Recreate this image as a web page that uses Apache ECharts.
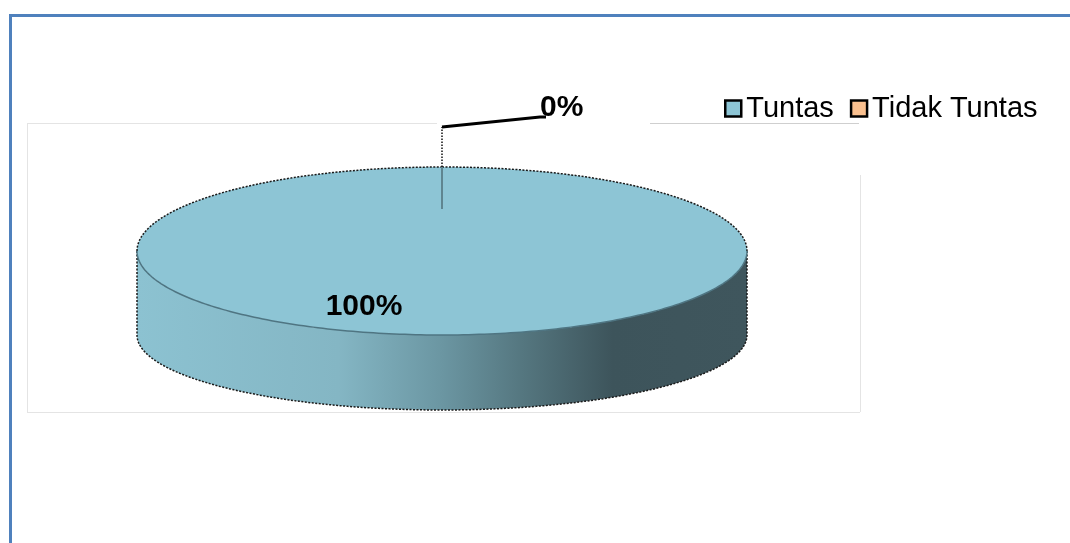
<!DOCTYPE html>
<html><head><meta charset="utf-8">
<script src="https://cdn.jsdelivr.net/npm/echarts@6/dist/echarts.min.js"></script>
<style>html,body{margin:0;padding:0;background:#fff}#c{width:1070px;height:543px}</style>
</head><body><div id="c"></div>
<script>
// ---- data ----
const categories = ['Tuntas', 'Tidak Tuntas'];
const values = [100, 0];
const colors = ['#8DC5D5', '#FAC08F'];

// ---- layout / style ----
const G = { cx: 442, cy: 251, rx: 305, ry: 84, cyB: 335, ryB: 75 };
const TAU = Math.PI * 2;
const total = values.reduce((a, b) => a + b, 0);

function pt(theta, k, bottom) {
  const cy = bottom ? G.cyB : G.cy, ry = bottom ? G.ryB : G.ry;
  return [G.cx + G.rx * k * Math.sin(theta), cy - ry * k * Math.cos(theta)];
}
function arc(a, b, bottom) {
  const pts = [];
  const N = Math.max(2, Math.ceil(Math.abs(b - a) / (Math.PI / 180)));
  for (let i = 0; i <= N; i++) pts.push(pt(a + (b - a) * i / N, 1, bottom));
  return pts;
}
function clip(s, e, a, b) {
  const out = [];
  for (const off of [-TAU, 0, TAU]) {
    const lo = Math.max(s, a + off), hi = Math.min(e, b + off);
    if (hi > lo) out.push([lo, hi]);
  }
  return out;
}
const sideGrad = new echarts.graphic.LinearGradient(0, 0, 1, 0, [
  { offset: 0, color: '#8CC2D1' },
  { offset: 0.33, color: '#84B6C4' },
  { offset: 0.5, color: '#6B96A2' },
  { offset: 0.63, color: '#557780' },
  { offset: 0.78, color: '#3D545B' },
  { offset: 1, color: '#3F565D' }
]);

function renderSlice(k) {
  return function (params, api) {
    let s = 0;
    for (let i = 0; i < k; i++) s += values[i];
    const start = s / total * TAU;
    const end = (s + values[k]) / total * TAU;
    const span = end - start;
    const children = [];
    const dark = { stroke: '#1a1a1a', lineWidth: 1.5, lineDash: [2, 1.5], fill: null };
    if (span > 0) {
      clip(start, end, Math.PI / 2, 3 * Math.PI / 2).forEach(([a, b]) => {
        const pts = arc(a, b, false).concat(arc(b, a, true));
        children.push({ type: 'polygon', shape: { points: pts }, style: { fill: sideGrad } });
        children.push({ type: 'polyline', shape: { points: [pt(a, 1, false)].concat(arc(a, b, true)).concat([pt(b, 1, false)]) }, style: dark });
      });
      const topPts = span >= TAU - 1e-9 ? arc(0, TAU, false) : [[G.cx, G.cy]].concat(arc(start, end, false));
      children.push({ type: 'polygon', shape: { points: topPts }, style: { fill: colors[k] } });
      clip(start, end, -Math.PI / 2, Math.PI / 2).forEach(([a, b]) => {
        children.push({ type: 'polyline', shape: { points: arc(a, b, false) }, style: dark });
      });
      clip(start, end, Math.PI / 2, 3 * Math.PI / 2).forEach(([a, b]) => {
        children.push({ type: 'polyline', shape: { points: arc(a, b, false) }, style: { stroke: '#4F7582', lineWidth: 1.5, fill: null } });
      });
    }
    const mid = (start + end) / 2;
    const pct = Math.round(values[k] / total * 100) + '%';
    const font = 'bold 30px "Liberation Sans", Arial, sans-serif';
    if (values[k] / total < 0.05) {
      const anchor = pt(mid, 0.5, false);
      const edge = pt(mid, 1, false);
      const elbow = [edge[0], 127];
      children.push({ type: 'polyline', shape: { points: [anchor, edge] }, style: { stroke: '#5F8590', lineWidth: 2, fill: null } });
      children.push({ type: 'polyline', shape: { points: [edge, elbow] }, style: { stroke: '#111', lineWidth: 1.5, lineDash: [1.5, 1.5], fill: null } });
      children.push({ type: 'polyline', shape: { points: [elbow, [elbow[0] + 98, 117], [elbow[0] + 104, 117]] }, style: { stroke: '#000', lineWidth: 3, fill: null } });
      children.push({ type: 'text', style: { text: pct, x: elbow[0] + 98, y: 108, font: font, fill: '#000', align: 'left', verticalAlign: 'middle' } });
    } else {
      const p = pt(mid, 0.66, false);
      children.push({ type: 'text', style: { text: pct, x: p[0] - 78, y: p[1], font: font, fill: '#000', align: 'center', verticalAlign: 'middle' } });
    }
    return { type: 'group', children: children };
  };
}

const chart = echarts.init(document.getElementById('c'), null, { renderer: 'canvas' });
const line = (x1, y1, x2, y2, stroke, w) => ({ type: 'line', shape: { x1, y1, x2, y2 }, style: { stroke, lineWidth: w }, silent: true, z: 0 });
chart.setOption({
  animation: false,
  backgroundColor: '#fff',
  graphic: [
    line(9, 15.5, 1070, 15.5, '#4F81BD', 3),
    line(10.5, 14, 10.5, 543, '#4F81BD', 3),
    line(27, 123.5, 437, 123.5, '#e4e4e4', 1),
    line(650, 123.5, 859, 123.5, '#cfcfcf', 1),
    line(27.5, 123, 27.5, 412, '#e4e4e4', 1),
    line(27, 412.5, 860, 412.5, '#e4e4e4', 1),
    line(860.5, 175, 860.5, 412, '#e4e4e4', 1)
  ],
  legend: {
    data: categories,
    left: 719, top: 89,
    icon: 'rect', itemWidth: 16, itemHeight: 16, itemGap: 16,
    itemStyle: { borderColor: '#000', borderWidth: 2.5 },
    textStyle: { fontSize: 29, fontFamily: '"Liberation Sans", Arial, sans-serif', color: '#000' },
    selectedMode: false
  },
  series: categories.map((name, k) => ({
    type: 'custom',
    name: name,
    coordinateSystem: 'none',
    itemStyle: { color: colors[k] },
    data: [[values[k]]],
    renderItem: renderSlice(k),
    z: 2 + k
  }))
});
</script></body></html>
